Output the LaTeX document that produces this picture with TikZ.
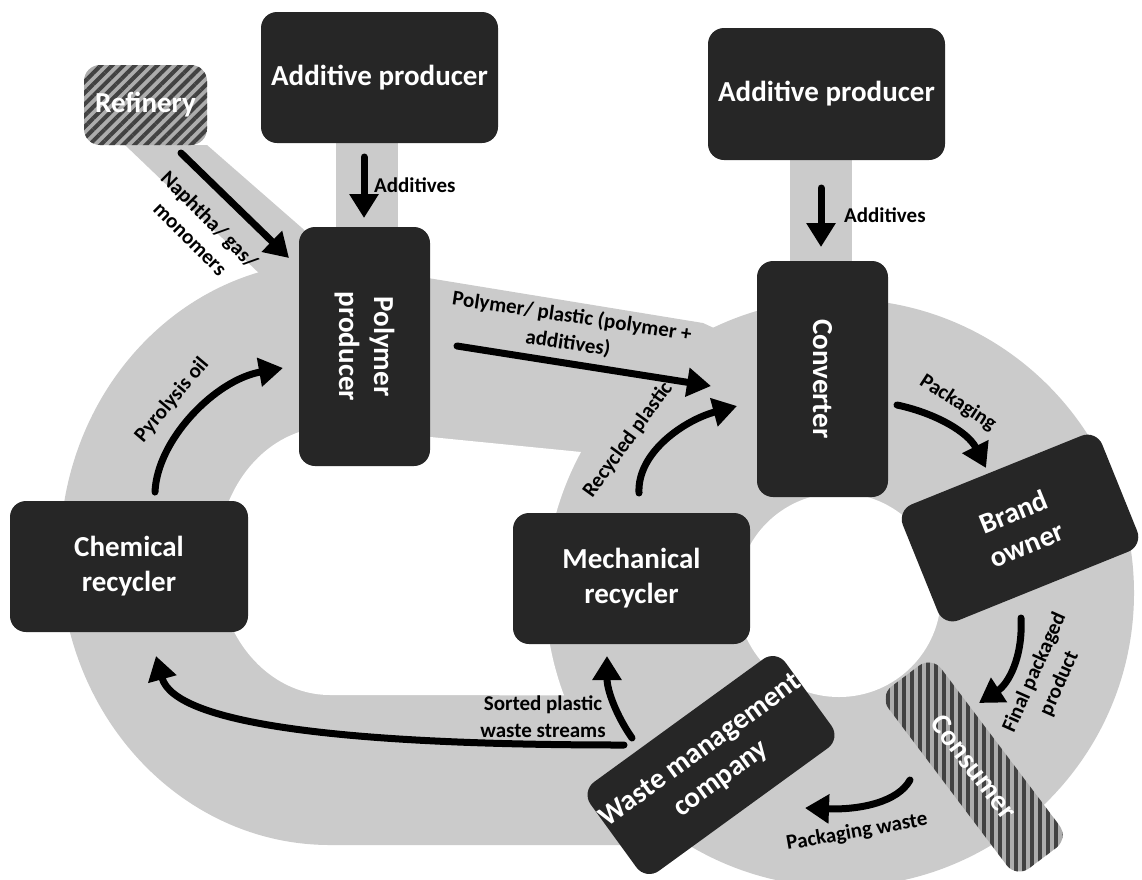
\documentclass[tikz,border=0pt]{standalone}
\usepackage{fontspec}
\setmainfont{Carlito}
\usetikzlibrary{arrows.meta,patterns.meta}

\definecolor{boxgray}{HTML}{262626}
\definecolor{bandgray}{HTML}{CBCBCB}
\definecolor{hatchdark}{HTML}{424242}
\definecolor{hatchlight}{HTML}{ADADAD}

\tikzset{
  boxtext/.style={text=white, inner sep=0pt, align=center, rounded corners=16pt,
    font=\bfseries\fontsize{29}{35}\selectfont},
  box/.style={boxtext, fill=boxgray},
  hatchbox/.style={boxtext, preaction={fill=hatchlight},
    pattern={Lines[angle=#1,distance=8pt,line width=4pt]}, pattern color=hatchdark},
  flow/.style={line width=7pt, line cap=round, -{Triangle[length=24pt,width=28pt]}},
  lbl/.style={inner sep=0pt, align=center, font=\bfseries\fontsize{21}{27}\selectfont},
}

\begin{document}
\begin{tikzpicture}[x=1pt, y=-1pt]
        \useasboundingbox (0,0) rectangle (1142,879);

        % grey flow bands
        \fill[bandgray] (330,262) -- (703,323) -- (740,340) -- (740,845) -- (330,845)
            arc[start angle=90, end angle=270, x radius=270, y radius=291.5] -- cycle;
        \fill[bandgray] (125,145) -- (207,145) -- (310,235) -- (310,290) -- (262,276) -- cycle;
        \fill[bandgray] (336,135) rectangle (398,235);
        \fill[bandgray] (790,150) rectangle (852,270);
        \fill[bandgray] (840,593) circle[radius=294];
        \fill[white] (330,427) -- (581,452) arc[start angle=208.6, end angle=159.4, radius=293]
            -- (330,695) arc[start angle=90, end angle=270, x radius=113, y radius=134] -- cycle;
        \fill[white] (839,595) circle[radius=102];

        % actors
        \draw (145.5,105) node(RF) [hatchbox=45,
            minimum width=123pt,
            minimum height=80pt]
        {Refinery};
        \draw (379.5,77.5) node(AP1) [box,
            minimum width=237pt,
            minimum height=131pt]
        {Additive producer};
        \draw (826.5,94) node(AP2) [box,
            minimum width=237pt,
            minimum height=132pt]
        {Additive producer};
        \draw (364.5,346.5) node(PP) [box, rotate=-90,
            minimum width=239pt,
            minimum height=131pt]
        {Polymer\\producer};
        \draw (822.5,379) node(CV) [box, rotate=-90,
            minimum width=236pt,
            minimum height=131pt]
        {Converter};
        \draw (1020,528) node(BO) [box, rotate=22,
            minimum width=215pt,
            minimum height=125pt]
        {Brand\\owner};
        \draw (974,767) node(CO) [hatchbox=90, rotate=-53,
            minimum width=228pt,
            minimum height=66pt]
        {Consumer};
        \draw (711,765) node(WM) [box, rotate=36,
            minimum width=228pt,
            minimum height=110pt]
        {Waste management\\company};
        \draw (631.5,578.5) node(MR) [box,
            minimum width=237pt,
            minimum height=131pt]
        {Mechanical\\recycler};
        \draw (129,566.5) node(CR) [box,
            minimum width=238pt,
            minimum height=131pt]
        {Chemical\\recycler};

        % arrow ends
        \coordinate (rfOut) at (181,153);
        \coordinate (ppIn) at (289,258);
        \coordinate (apOut) at (364,157);
        \coordinate (ppTop) at (364,218);
        \coordinate (ap2Out) at (821,188);
        \coordinate (cvTop) at (821,247);
        \coordinate (ppOut) at (457,346);
        \coordinate (cvIn) at (711,386);
        \coordinate (mrOut) at (639,493);
        \coordinate (cvIn2) at (737,406);
        \coordinate (cvOut) at (897,405);
        \coordinate (boIn) at (986,468);
        \coordinate (boOut) at (1021,618);
        \coordinate (coIn) at (979,703);
        \coordinate (coOut) at (910,780);
        \coordinate (wmIn) at (805,808);
        \coordinate (wmOut) at (624,745);
        \coordinate (crIn) at (156,656);
        \coordinate (wmOut2) at (632,738);
        \coordinate (mrIn) at (607,656);
        \coordinate (crOut) at (155,492);
        \coordinate (ppIn2) at (283,368);

        % flows
        \draw[flow] (rfOut) -- (ppIn);
        \draw[flow] (apOut) -- (ppTop);
        \draw[flow] (ap2Out) -- (cvTop);
        \draw[flow] (ppOut) -- (cvIn);
        \draw[flow] (mrOut) .. controls (637,452) and (685,420) .. (cvIn2);
        \draw[flow] (cvOut) .. controls (935,413) and (968,432) .. (boIn);
        \draw[flow] (boOut) .. controls (1023,658) and (1008,684) .. (coIn);
        \draw[flow] (coOut) .. controls (898,802) and (860,810) .. (wmIn);
        \draw[flow] (wmOut) .. controls (350,745) and (175,725) .. (crIn);
        \draw[flow] (wmOut2) .. controls (616,715) and (607,690) .. (mrIn);
        \draw[flow] (crOut) .. controls (157,440) and (215,380) .. (ppIn2);

        % flow labels
        \draw (200,229) node(naphtha) [lbl, rotate=-45] {Naphtha/ gas/\\monomers};
        \draw (374,185) node(add1) [lbl, anchor=west] {Additives};
        \draw (844,215) node(add2) [lbl, anchor=west] {Additives};
        \draw (570,330) node(polymer) [lbl, rotate=-8.5] {Polymer/ plastic (polymer +\\additives)};
        \draw (628,440) node(recycled) [lbl, rotate=54] {Recycled plastic};
        \draw (958,403) node(packaging) [lbl, rotate=-33] {Packaging};
        \draw (1047,678) node(final) [lbl, rotate=66] {Final packaged\\product};
        \draw (857,832) node(waste) [lbl, rotate=10] {Packaging waste};
        \draw (543,717) node(sorted) [lbl] {Sorted plastic\\waste streams};
        \draw (172,400) node(pyro) [lbl, rotate=50] {Pyrolysis oil};
    \end{tikzpicture}
\end{document}
